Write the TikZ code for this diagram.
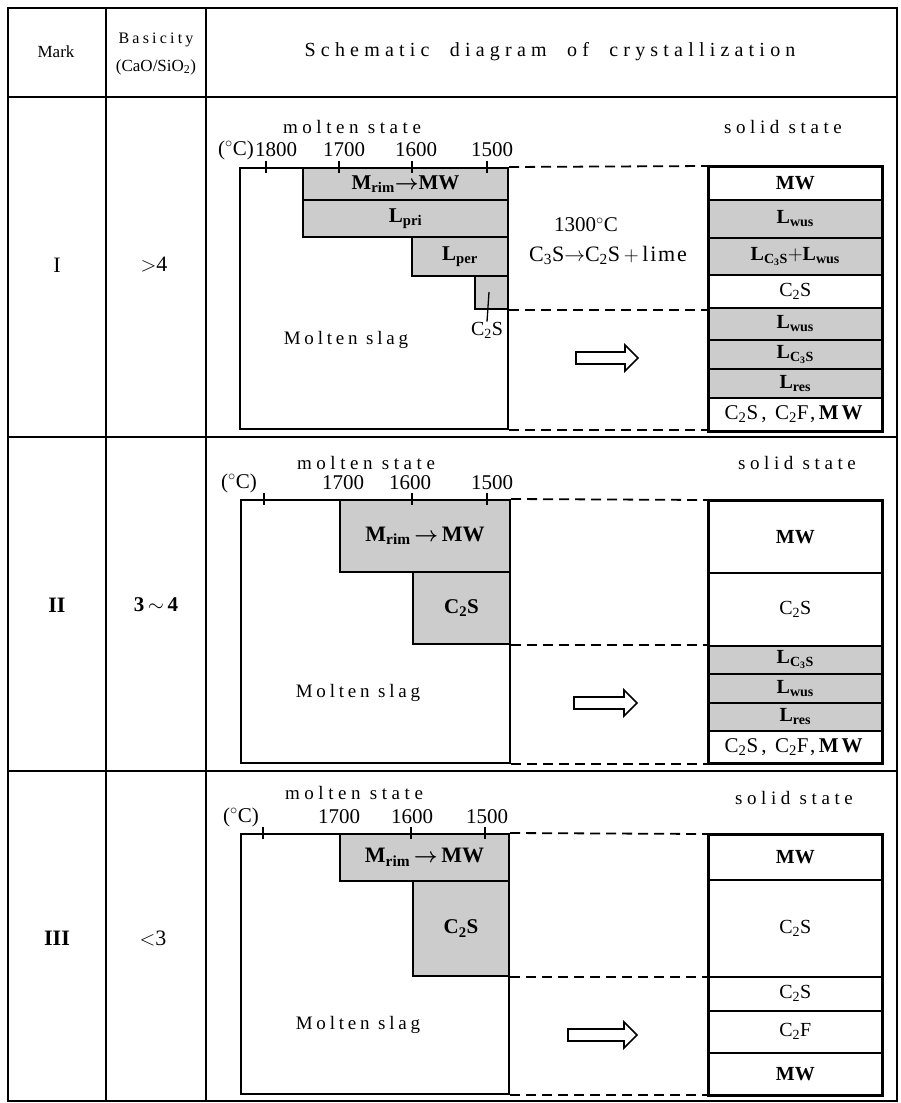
\documentclass[tikz,border=0pt]{standalone}
\usepackage{fontspec}
\setmainfont{Liberation Serif}
\newfontfamily\spc[LetterSpace=24]{Liberation Serif}
\newfontfamily\spcm[LetterSpace=20]{Liberation Serif}
\newfontfamily\spcl[LetterSpace=15]{Liberation Serif}
\newfontfamily\spcs[LetterSpace=8]{Liberation Serif}
\newfontfamily\spcw[LetterSpace=26,WordSpace=2]{Liberation Serif}
\usetikzlibrary{calc}
\begin{document}
\begin{tikzpicture}[x=1pt,y=-1pt,
  tline/.style={line width=1.6pt},
  box/.style={draw,line width=2pt,inner sep=0pt,anchor=north west,font=\fontsize{21}{21}\selectfont\bfseries},
  shd/.style={fill=black!20},
  dline/.style={line width=1.8pt,dash pattern=on 10pt off 6pt},
  tickline/.style={line width=1.4pt},
  num/.style={font=\fontsize{21}{21}\selectfont,inner sep=0pt},
  captxt/.style={font=\fontsize{19}{19}\spc,inner sep=0pt},
  slagtxt/.style={font=\fontsize{19}{19}\spcm,inner sep=0pt},
  txt/.style={font=\fontsize{20}{20}\selectfont,inner sep=0pt},
  cell/.style={draw,line width=1.6pt,inner sep=0pt,anchor=north west,minimum width=173pt,font=\fontsize{20}{20}\selectfont},
  mix/.style={font=\fontsize{21}{21}\spcl},
  harrow/.style={draw,line width=1.6pt,fill=white}
]
\useasboundingbox (0,0) rectangle (901,1103);
% ---------- table frame ----------
\draw[tline] (8,8) rectangle (897,1101);
\draw[tline] (106,8) -- (106,1101);
\draw[tline] (206,8) -- (206,1101);
\draw[tline] (8,97) -- (897,97);
\draw[tline] (8,437) -- (897,437);
\draw[tline] (8,771) -- (897,771);
% ---------- header ----------
\node[font=\fontsize{17}{17}\selectfont,inner sep=0pt] (hmark) at (56,52) {Mark};
\node[font=\fontsize{16}{16}\spcm,inner sep=0pt] (hbas) at (156,40) {Basicity};
\node[font=\fontsize{17}{17}\selectfont,inner sep=0pt] (hratio) at (156,67) {(CaO/SiO\textsubscript{2})};
\node[font=\fontsize{20}{20}\spcw,inner sep=0pt] (htitle) at (550,52) {Schematic diagram of crystallization};
% ---------- row labels ----------
\node[txt,font=\fontsize{22}{22}\selectfont] (mI) at (57,265) {I};
\node[txt,font=\fontsize{22}{22}\selectfont] (bI) at (154,265) {$>$4};
\node[txt,font=\fontsize{22}{22}\selectfont\bfseries] (mII) at (57,605) {II};
\node[txt,font=\fontsize{21}{21}\selectfont\bfseries] (bII) at (156,605) {3\,$\sim$\,4};
\node[txt,font=\fontsize{22}{22}\selectfont\bfseries] (mIII) at (57,938) {III};
\node[txt,font=\fontsize{22}{22}\selectfont] (bIII) at (153,938) {$<$3};

% =============== ROW I ===============
\node[captxt] (msI) at (352,127) {molten state};
\node[num] (dcI) at (236,150) {($^{\circ}$C)};
\node[num] (t18I) at (276,150) {1800};
\node[num] (t17I) at (344,150) {1700};
\node[num] (t16I) at (416,150) {1600};
\node[num] (t15I) at (492,150) {1500};
\node[box,minimum width=268pt,minimum height=261pt] (bigI) at (239,167) {};
\node[box,shd,minimum width=205pt,minimum height=32pt] (mrimI) at (302,167) {M\textsubscript{rim}{\boldmath$\rightarrow$}MW};
\node[box,shd,minimum width=205pt,minimum height=37pt] (lpriI) at (302,199) {L\textsubscript{pri}};
\node[box,shd,minimum width=96pt,minimum height=39pt] (lperI) at (411,236) {L\textsubscript{per}};
\node[box,shd,minimum width=33pt,minimum height=33pt] (c2sI) at (474,275) {};
\foreach \x in {266,339,412,487}
  \draw[tickline] (\x,161) -- (\x,173);
\node[txt] (c2slabI) at (487,330) {C\textsubscript{2}S};
\coordinate (slashI) at (489,292);
\draw[line width=1.3pt] (c2slabI.north) -- (slashI);
\node[slagtxt] (slagI) at (346,340) {Molten slag};
\node[captxt] (ssI) at (783,127) {solid state};
\node[txt,font=\fontsize{21}{21}\selectfont] (t1300) at (586,225) {1300$^{\circ}$C};
\node[txt,font=\fontsize{22}{22}\spcs] (rxI) at (608,255) {C\textsubscript{3}S$\rightarrow$C\textsubscript{2}S\,$+$\,lime};
% right stack
\node[cell,minimum height=33pt] (rI1) at (708,166) {\bfseries MW};
\node[cell,shd,minimum height=38pt] (rI2) at (708,199) {\bfseries L\textsubscript{wus}};
\node[cell,shd,minimum height=37pt] (rI3) at (708,237) {\bfseries L\textsubscript{C\textsubscript{3}S}$+$L\textsubscript{wus}};
\node[cell,minimum height=33pt] (rI4) at (708,274) {C\textsubscript{2}S};
\node[cell,shd,minimum height=32pt] (rI5) at (708,307) {\bfseries L\textsubscript{wus}};
\node[cell,shd,minimum height=29pt] (rI6) at (708,339) {\bfseries L\textsubscript{C\textsubscript{3}S}};
\node[cell,shd,minimum height=29pt] (rI7) at (708,368) {\bfseries L\textsubscript{res}};
\node[cell,mix,minimum height=33pt] (rI8) at (708,397) {C\textsubscript{2}S, C\textsubscript{2}F,\,\textbf{MW}};
\draw[line width=2.2pt] (rI1.north west) rectangle (rI8.south east);
\draw[dline] (bigI.north east) -- (rI1.north west);
\draw[dline] (c2sI.south east) -- (c2sI.south east -| rI1.west);
\draw[dline] (bigI.south east) -- (bigI.south east -| rI1.west);
\coordinate (arI) at (576,358);
\draw[harrow] (arI) ++(0,-6) -- ++(49,0) -- ++(0,-7) -- ++(13,13) -- ++(-13,13) -- ++(0,-7) -- ++(-49,0) -- cycle;

% =============== ROW II ===============
\node[captxt] (msII) at (366,463) {molten state};
\node[num] (dcII) at (239,483) {($^{\circ}$C)};
\node[num] (t17II) at (343,483) {1700};
\node[num] (t16II) at (410,483) {1600};
\node[num] (t15II) at (492,483) {1500};
\node[box,minimum width=269pt,minimum height=263pt] (bigII) at (240,499) {};
\node[box,shd,minimum width=170pt,minimum height=72pt,font=\fontsize{22}{22}\selectfont\bfseries] (mrimII) at (339,499) {M\textsubscript{rim}\,{\boldmath$\rightarrow$}\,MW};
\node[box,shd,minimum width=97pt,minimum height=72pt] (c2sII) at (412,571) {C\textsubscript{2}S};
\foreach \x in {264,412,487}
  \draw[tickline] (\x,493) -- (\x,505);
\node[slagtxt] (slagII) at (358,693) {Molten slag};
\node[captxt] (ssII) at (797,463) {solid state};
\node[cell,minimum height=72pt] (rII1) at (708,500) {\bfseries MW};
\node[cell,minimum height=73pt] (rII2) at (708,572) {C\textsubscript{2}S};
\node[cell,shd,minimum height=28pt] (rII3) at (708,645) {\bfseries L\textsubscript{C\textsubscript{3}S}};
\node[cell,shd,minimum height=29pt] (rII4) at (708,673) {\bfseries L\textsubscript{wus}};
\node[cell,shd,minimum height=28pt] (rII5) at (708,702) {\bfseries L\textsubscript{res}};
\node[cell,mix,minimum height=32pt] (rII6) at (708,730) {C\textsubscript{2}S, C\textsubscript{2}F,\,\textbf{MW}};
\draw[line width=2.2pt] (rII1.north west) rectangle (rII6.south east);
\draw[dline] (bigII.north east) -- (rII1.north west);
\draw[dline] (c2sII.south east) -- (c2sII.south east -| rII1.west);
\draw[dline] (bigII.south east) -- (bigII.south east -| rII1.west);
\coordinate (arII) at (574,703);
\draw[harrow] (arII) ++(0,-6) -- ++(50,0) -- ++(0,-7) -- ++(13,13) -- ++(-13,13) -- ++(0,-7) -- ++(-50,0) -- cycle;

% =============== ROW III ===============
\node[captxt] (msIII) at (354,793) {molten state};
\node[num] (dcIII) at (241,817) {($^{\circ}$C)};
\node[num] (t17III) at (339,817) {1700};
\node[num] (t16III) at (412,817) {1600};
\node[num] (t15III) at (487,817) {1500};
\node[box,minimum width=268pt,minimum height=260pt] (bigIII) at (240,833) {};
\node[box,shd,minimum width=169pt,minimum height=47pt,font=\fontsize{22}{22}\selectfont\bfseries] (mrimIII) at (339,833) {M\textsubscript{rim}\,{\boldmath$\rightarrow$}\,MW};
\node[box,shd,minimum width=96pt,minimum height=95pt] (c2sIII) at (412,880) {C\textsubscript{2}S};
\foreach \x in {263,411,485}
  \draw[tickline] (\x,827) -- (\x,839);
\node[slagtxt] (slagIII) at (358,1025) {Molten slag};
\node[captxt] (ssIII) at (794,798) {solid state};
\node[cell,minimum height=45pt] (rIII1) at (708,834) {\bfseries MW};
\node[cell,minimum height=97pt] (rIII2) at (708,879) {C\textsubscript{2}S};
\node[cell,minimum height=34pt] (rIII3) at (708,976) {C\textsubscript{2}S};
\node[cell,minimum height=42pt] (rIII4) at (708,1010) {C\textsubscript{2}F};
\node[cell,minimum height=42pt] (rIII5) at (708,1052) {\bfseries MW};
\draw[line width=2.2pt] (rIII1.north west) rectangle (rIII5.south east);
\draw[dline] (bigIII.north east) -- (rIII1.north west);
\draw[dline] (c2sIII.south east) -- (c2sIII.south east -| rIII1.west);
\draw[dline] (bigIII.south east) -- (bigIII.south east -| rIII1.west);
\coordinate (arIII) at (568,1035);
\draw[harrow] (arIII) ++(0,-6) -- ++(56,0) -- ++(0,-7) -- ++(13,13) -- ++(-13,13) -- ++(0,-7) -- ++(-56,0) -- cycle;
\end{tikzpicture}
\end{document}
